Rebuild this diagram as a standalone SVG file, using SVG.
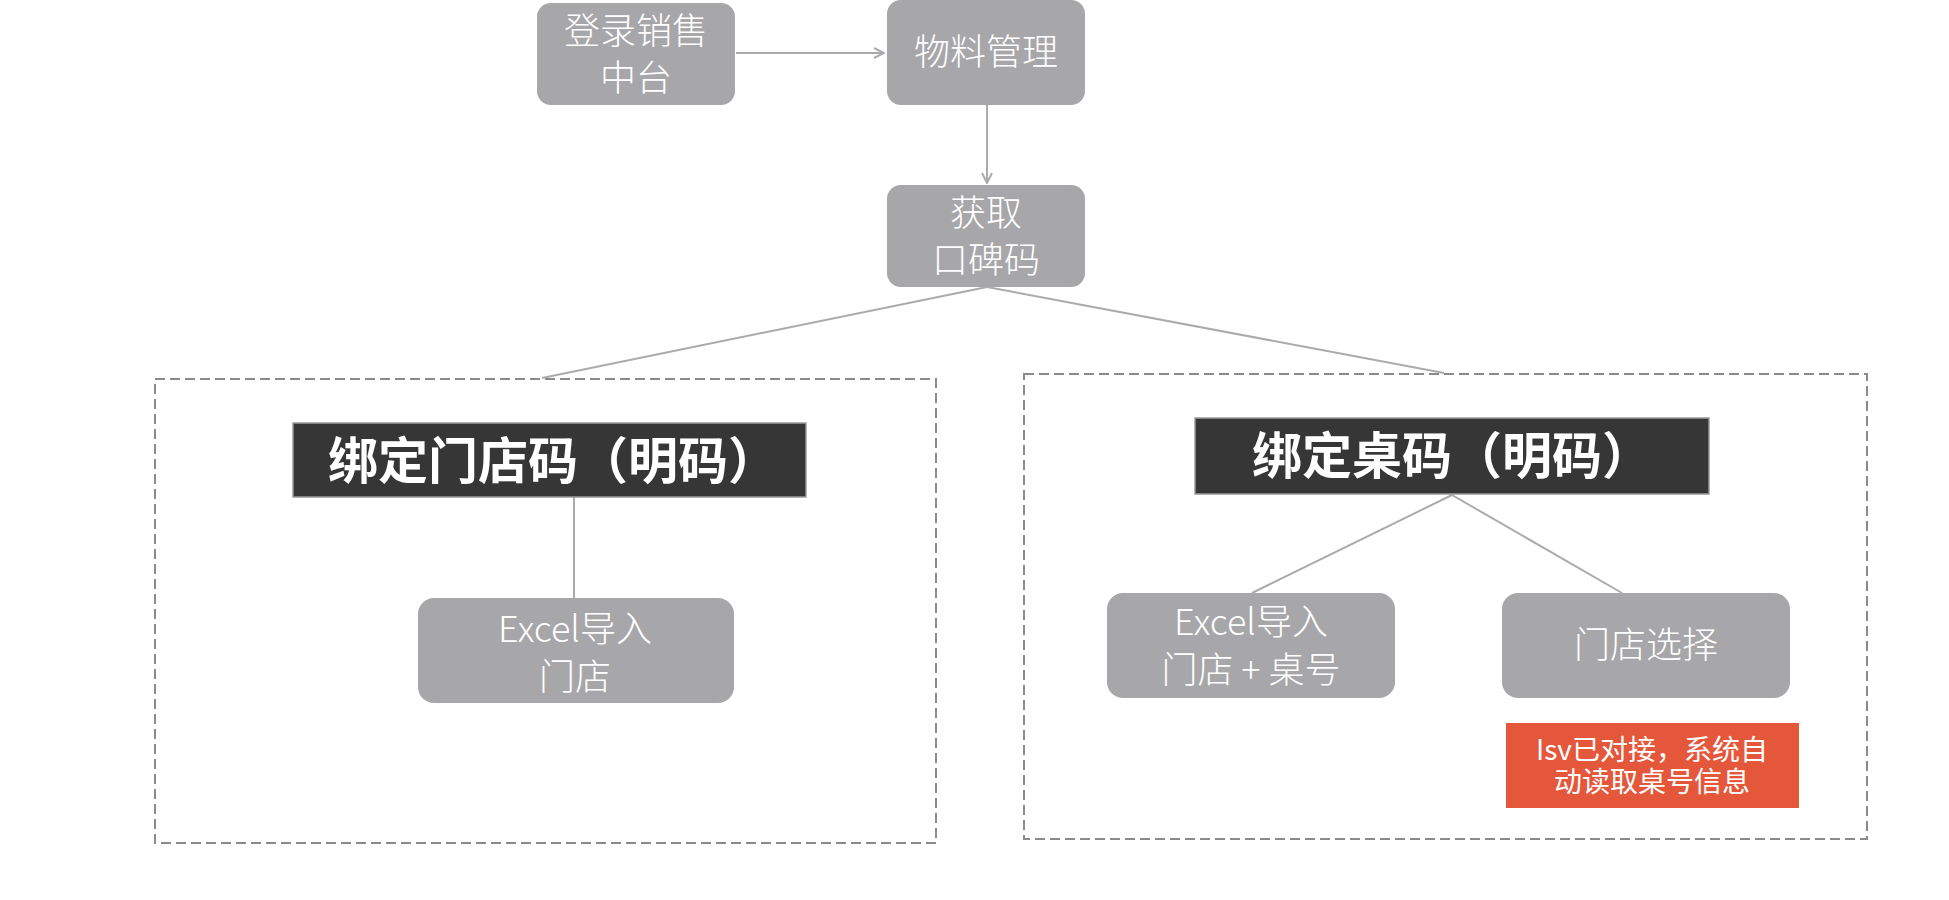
<svg xmlns="http://www.w3.org/2000/svg" width="1949" height="900" viewBox="0 0 1949 900">
<style>
.node{fill:#a7a6a8}
.t{font-family:"Noto Sans CJK SC","Microsoft YaHei",sans-serif;fill:#ffffff;text-anchor:middle}
.tn{font-size:36px;font-weight:300}
.hdr{fill:#363636;stroke:#9a9a9a;stroke-width:1.5}
.th{font-size:50px;font-weight:bold}
.tr{font-size:28px}
.box{fill:none;stroke:#8a8a8a;stroke-width:2;stroke-dasharray:10 5}
.con{fill:none;stroke:#ababab;stroke-width:2}
</style>
<defs>
<marker id="arr" viewBox="0 0 12 12" refX="11" refY="6" markerWidth="12" markerHeight="12" markerUnits="userSpaceOnUse" orient="auto">
<path d="M1,1 L11,6 L1,11" fill="none" stroke="#ababab" stroke-width="2"/>
</marker>
</defs>
<rect width="1949" height="900" fill="#ffffff"/>
<g id="group-left"><rect class="box" x="155" y="379" width="781" height="464"/></g>
<g id="group-right"><rect class="box" x="1024" y="374" width="843" height="465"/></g>
<g id="connectors">
<line class="con" x1="736" y1="53" x2="884" y2="53" marker-end="url(#arr)"/>
<line class="con" x1="987" y1="105" x2="987" y2="183" marker-end="url(#arr)"/>
<line class="con" x1="987" y1="287" x2="542" y2="378"/>
<line class="con" x1="987" y1="287" x2="1444" y2="373"/>
<line class="con" x1="574" y1="497" x2="574" y2="598"/>
<line class="con" x1="1452" y1="495" x2="1252" y2="593"/>
<line class="con" x1="1452" y1="495" x2="1622" y2="593"/>
</g>
<g id="n-login">
<rect class="node" x="537" y="3" width="198" height="102" rx="14"/>
<text class="t tn" x="636" y="44">登录销售</text>
<text class="t tn" x="636" y="91">中台</text>
</g>
<g id="n-material">
<rect class="node" x="887" y="0" width="198" height="105" rx="14"/>
<text class="t tn" x="986" y="65">物料管理</text>
</g>
<g id="n-get">
<rect class="node" x="887" y="185" width="198" height="102" rx="14"/>
<text class="t tn" x="986" y="226">获取</text>
<text class="t tn" x="986" y="273">口碑码</text>
</g>
<g id="h-store">
<rect class="hdr" x="293" y="423" width="513" height="74"/>
<text class="t th" x="553" y="479">绑定门店码（明码）</text>
</g>
<g id="n-excel-store">
<rect class="node" x="418" y="598" width="316" height="105" rx="16"/>
<text class="t tn" x="575" y="642">Excel导入</text>
<text class="t tn" x="575" y="690">门店</text>
</g>
<g id="h-table">
<rect class="hdr" x="1195" y="418" width="514" height="76"/>
<text class="t th" x="1452" y="474">绑定桌码（明码）</text>
</g>
<g id="n-excel-table">
<rect class="node" x="1107" y="593" width="288" height="105" rx="16"/>
<text class="t tn" x="1251" y="635">Excel导入</text>
<text class="t tn" x="1251" y="683">门店 + 桌号</text>
</g>
<g id="n-select">
<rect class="node" x="1502" y="593" width="288" height="105" rx="16"/>
<text class="t tn" x="1646" y="658">门店选择</text>
</g>
<g id="n-note">
<rect x="1506" y="723" width="293" height="85" fill="#e5573b"/>
<text class="t tr" x="1652" y="760">Isv已对接，系统自</text>
<text class="t tr" x="1652" y="792">动读取桌号信息</text>
</g>
</svg>
